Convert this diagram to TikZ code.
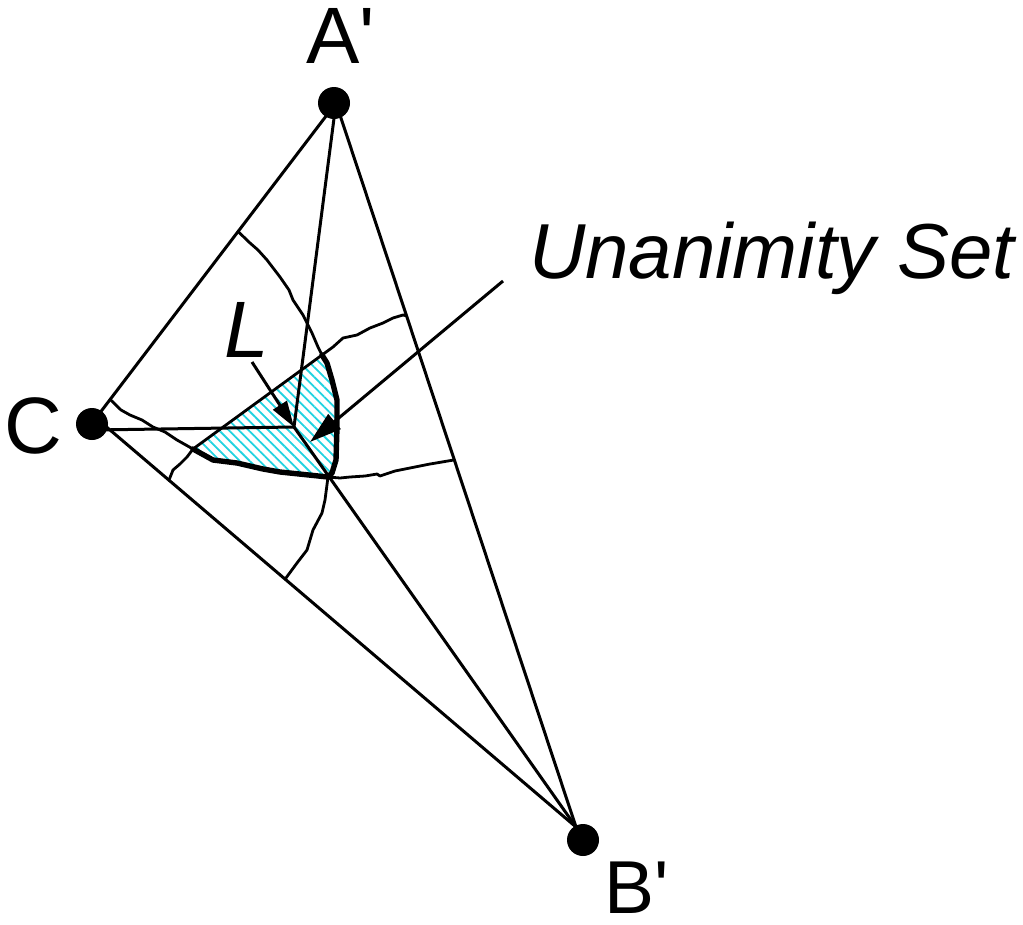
\documentclass[tikz,border=0pt]{standalone}
\usepackage{fontspec}
\newfontfamily\labelfont{Liberation Sans}
\usetikzlibrary{arrows.meta, patterns.meta, calc}
\definecolor{hatch}{HTML}{22D3E0}

\begin{document}
\begin{tikzpicture}[
  x=1pt, y=-1pt,
  edge/.style={line width=3pt, line cap=round},
  border/.style={line width=2.8pt, line join=round, line cap=round},
  rim/.style={line width=5.4pt, line join=round, line cap=round},
  vertex/.style={circle, fill, inner sep=0pt, minimum size=32pt},
  lbl/.style={inner sep=0pt, anchor=base west, font=\labelfont\fontsize{80}{80}\selectfont},
  pointer/.style={line width=3pt, -{Triangle[length=26pt, width=16pt]}},
  bigpointer/.style={line width=3pt, -{Triangle[length=32pt, width=19pt]}}
]
\useasboundingbox (0,0) rectangle (1023,924);

% corners of the triangle and the interior point
\coordinate (Av) at (336,103);
\coordinate (Cv) at (96,418);
\coordinate (Ch) at (94,430);
\coordinate (Bv) at (576,827);
\coordinate (L) at (294,427);

% where the region borders meet the edges
\coordinate (pAC1) at ($(Av)!0.408!(Cv)$);
\coordinate (pAC2) at ($(Av)!0.941!(Cv)$);
\coordinate (pCB1) at ($(Cv)!0.152!(Bv)$);
\coordinate (pCB2) at ($(Cv)!0.394!(Bv)$);
\coordinate (pAB1) at ($(Av)!0.294!(Bv)$);
\coordinate (pAB2) at ($(Av)!0.493!(Bv)$);
\coordinate (qTop) at (322,355);
\coordinate (qLeft) at (193,449);
\coordinate (qBot) at (328,477);

% hatched unanimity set
\fill[pattern={Lines[angle=-45, distance=7pt, line width=1.8pt]}, pattern color=hatch]
  (qLeft) -- (qTop) -- (327,363) -- (332,380) -- (337,400) -- (337,427) -- (336,460)
  -- (332,473) -- (qBot) -- (280,472) -- (263,469) -- (237,463) -- (213,460) -- cycle;

% triangle and lines to L
\draw[edge] (Av) -- (Cv);
\draw[edge] (Av) -- (Bv);
\draw[edge] (Cv) -- (Bv);
\draw[edge] (Av) -- (L);
\draw[edge] (Ch) -- (L);
\draw[edge] (L) -- (Bv);

% region borders
\draw[border] (pAC1) -- (250,243) -- (258,250) -- (267,260) -- (280,277) -- (289,290)
  -- (293,300) -- (303,315) -- (312,333) -- (318,347) -- (qTop);
\draw[border] (pAC2) -- (121,410) -- (130,415) -- (142,420) -- (153,427) -- (165,432)
  -- (177,440) -- (qLeft);
\draw[border] (qLeft) -- (187,457) -- (180,464) -- (173,470) -- (pCB1);
\draw[border] (qTop) -- (333,347) -- (343,338) -- (357,335) -- (370,328) -- (383,323)
  -- (393,318) -- (403,315) -- (pAB1);
\draw[border] (qBot) -- (340,478) -- (350,477) -- (365,476) -- (377,474) -- (380,476)
  -- (395,471) -- (410,468) -- (430,464) -- (pAB2);
\draw[border] (qBot) -- (325,500) -- (322,513) -- (313,530) -- (307,550) -- (297,563)
  -- (pCB2);
\draw[border] (qLeft) -- (qTop);
\draw[rim] (qTop) -- (327,363) -- (332,380) -- (337,400) -- (337,427) -- (336,460)
  -- (332,473) -- (qBot);
\draw[rim] (qLeft) -- (213,460) -- (237,463) -- (263,469) -- (280,472) -- (qBot);

% vertices
\node[vertex] (A) at (334,103) {};
\node[vertex] (C) at (92,424) {};
\node[vertex] (B) at (583,840) {};

% labels
\node[lbl] (Alabel) at (306,63) {A'};
\node[lbl] (Clabel) at (4,453) {C};
\node[lbl, font=\labelfont\fontsize{75}{75}\selectfont] (Blabel) at (604,913) {B'};
\node[lbl] (Llabel) at (224,357) {\itshape L};
\node[lbl, font=\labelfont\fontsize{78}{78}\selectfont] (Ulabel) at (529,278) {\itshape Unanimity Set};

% pointers
\coordinate (Ltail) at (252,362);
\coordinate (Utail) at (503,281);
\coordinate (Utip) at (310,442);
\draw[pointer] (Ltail) -- (L);
\draw[bigpointer] (Utail) -- (Utip);
\end{tikzpicture}
\end{document}
